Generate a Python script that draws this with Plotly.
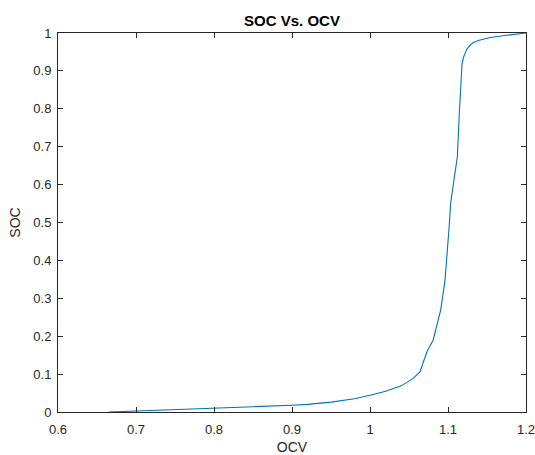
import plotly.graph_objects as go

# Data (OCV in volts, SOC fraction)
ocv = [0.665, 0.70, 0.75, 0.80, 0.85, 0.90, 0.92, 0.95, 0.98, 1.00, 1.02, 1.04,
       1.055, 1.064, 1.068, 1.073, 1.081, 1.0906, 1.0962, 1.0996, 1.1015, 1.1034,
       1.107, 1.112, 1.1145, 1.1167, 1.118, 1.1197, 1.1215, 1.124, 1.128, 1.1325,
       1.14, 1.154, 1.175, 1.2]
soc = [0.0, 0.003, 0.0065, 0.010, 0.014, 0.018, 0.020, 0.026, 0.035, 0.044, 0.055,
       0.069, 0.088, 0.106, 0.128, 0.159, 0.190, 0.269, 0.348, 0.427, 0.49, 0.551,
       0.603, 0.674, 0.788, 0.894, 0.918, 0.935, 0.947, 0.957, 0.967, 0.975,
       0.981, 0.988, 0.994, 1.0]

x_ticks = [0.6, 0.7, 0.8, 0.9, 1.0, 1.1, 1.2]
x_tick_text = ["0.6", "0.7", "0.8", "0.9", "1", "1.1", "1.2"]
y_ticks = [0, 0.1, 0.2, 0.3, 0.4, 0.5, 0.6, 0.7, 0.8, 0.9, 1.0]
y_tick_text = ["0", "0.1", "0.2", "0.3", "0.4", "0.5", "0.6", "0.7", "0.8", "0.9", "1"]

W, H = 535, 455
L, R, T, B = 58, 9, 33, 43
axis_col = "#262626"
font_fam = "Liberation Sans, Arial, Helvetica, sans-serif"

fig = go.Figure()
fig.add_trace(go.Scatter(x=ocv, y=soc, mode="lines",
                         line=dict(color="#0072BD", width=1.1),
                         showlegend=False))

axis_common = dict(showgrid=False, zeroline=False, showline=True, linecolor=axis_col,
                   linewidth=1, mirror="allticks", ticks="inside", ticklen=5,
                   tickcolor=axis_col, tickwidth=1, ticklabeloverflow="allow",
                   tickfont=dict(family=font_fam, size=13, color=axis_col))

fig.update_xaxes(range=[0.6, 1.2], tickvals=x_ticks, ticktext=x_tick_text,
                 ticklabelstandoff=5,
                 title=dict(text="OCV", font=dict(family=font_fam, size=14, color=axis_col),
                            standoff=12),
                 **axis_common)
fig.update_yaxes(range=[0, 1], tickvals=y_ticks, ticktext=y_tick_text,
                 ticklabelstandoff=3,
                 title=dict(text="SOC", font=dict(family=font_fam, size=14, color=axis_col),
                            standoff=9),
                 **axis_common)

fig.update_layout(
    width=W, height=H,
    margin=dict(l=L, r=R, t=T, b=B, autoexpand=False),
    paper_bgcolor="white", plot_bgcolor="white",
    title=dict(text="<b>SOC Vs. OCV</b>", x=(L + (W - R)) / 2 / W, xanchor="center",
               y=1 - 21 / H, yanchor="middle", yref="container",
               font=dict(family=font_fam, size=15, color="black")),
)

fig.write_html("out.html")
